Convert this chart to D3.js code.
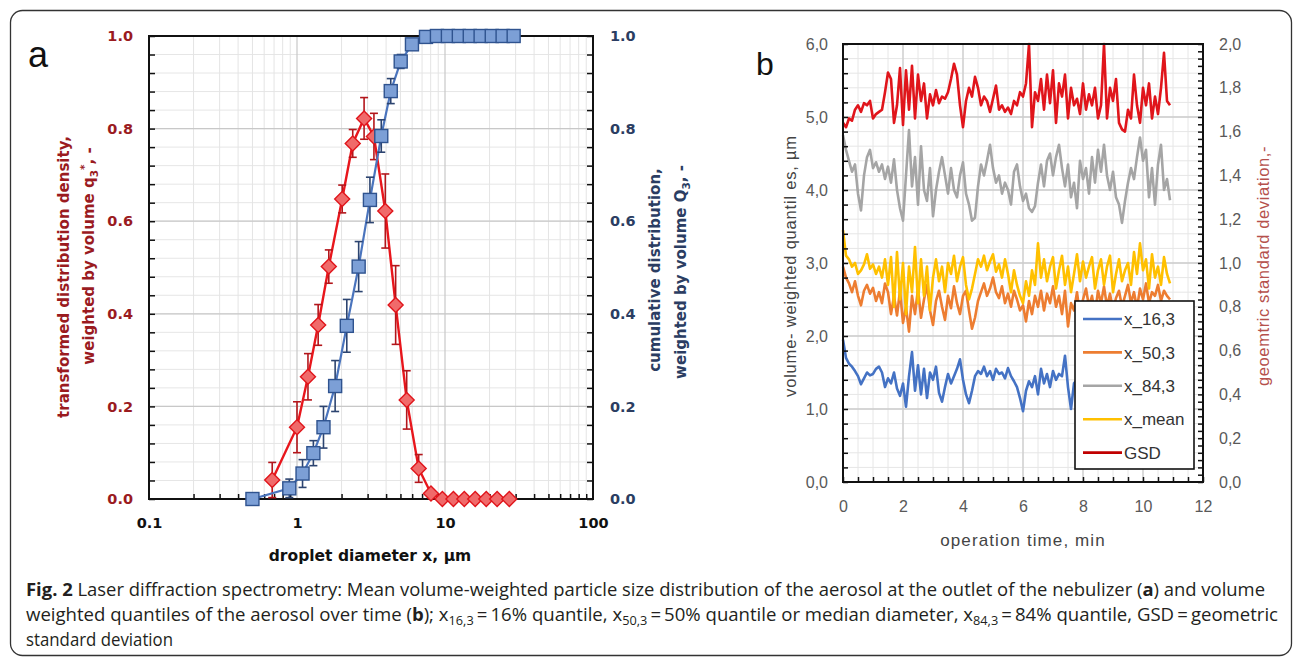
<!DOCTYPE html>
<html><head><meta charset="utf-8">
<script src="https://cdn.jsdelivr.net/npm/d3@7"></script>
<style>
body{margin:0;background:#fff}
svg{display:block}
</style>
</head><body>
<svg id="c" width="1296" height="659" font-family="Liberation Sans, Arial, sans-serif"></svg>
<script>
// ---------- Panel a data ----------
const diamDensity = [0.68,1.0,1.186,1.39,1.64,2.02,2.38,2.84,3.31,3.95,4.64,5.51,6.64,8.04,9.6,11.4,13.5,16.0,19.0,22.5,27.2];
const q3Density   = [0.041,0.155,0.264,0.376,0.502,0.648,0.768,0.822,0.783,0.622,0.419,0.214,0.066,0.012,0,0,0,0,0,0,0];
const q3Err       = [0.038,0.055,0.050,0.044,0.036,0.030,0.030,0.045,0.050,0.080,0.085,0.063,0.030,0.008,0,0,0,0,0,0,0];
const diamCum     = [0.50,0.887,1.09,1.29,1.51,1.81,2.17,2.61,3.11,3.71,4.30,5.02,5.98,7.44,8.82,10.46,12.4,14.7,17.4,20.7,24.5,29.1];
const Q3Cum       = [0,0.023,0.055,0.099,0.155,0.244,0.374,0.502,0.646,0.784,0.881,0.945,0.982,0.998,1,1,1,1,1,1,1,1];
const Q3Err       = [0,0.020,0.030,0.027,0.045,0.055,0.057,0.054,0.049,0.035,0.027,0.015,0.008,0,0,0,0,0,0,0,0,0];
const xTicksA = [0.1,1,10,100];
const xTickLabelsA = ["0.1","1","10","100"];
const yTicksA = [0,0.2,0.4,0.6,0.8,1.0];
const yTickLabelsA = ["0.0","0.2","0.4","0.6","0.8","1.0"];

// ---------- Panel b data ----------
const timeMin = [
0.0,0.1,0.2,0.3,0.4,0.5,0.6,0.7,0.8,0.9,
1.0,1.1,1.2,1.3,1.4,1.5,1.6,1.7,1.8,1.9,
2.0,2.1,2.2,2.3,2.4,2.5,2.6,2.7,2.8,2.9,
3.0,3.1,3.2,3.3,3.4,3.5,3.6,3.7,3.8,3.9,
4.0,4.1,4.2,4.3,4.4,4.5,4.6,4.7,4.8,4.9,
5.0,5.1,5.2,5.3,5.4,5.5,5.6,5.7,5.8,5.9,
6.0,6.1,6.2,6.3,6.4,6.5,6.6,6.7,6.8,6.9,
7.0,7.1,7.2,7.3,7.4,7.5,7.6,7.7,7.8,7.9,
8.0,8.1,8.2,8.3,8.4,8.5,8.6,8.7,8.8,8.9,
9.0,9.1,9.2,9.3,9.4,9.5,9.6,9.7,9.8,9.9,
10.0,10.1,10.2,10.3,10.4,10.5,10.6,10.7,10.8,10.9];
const x16 = [
1.95,1.70,1.62,1.58,1.52,1.45,1.34,1.42,1.50,1.46,
1.48,1.55,1.58,1.50,1.30,1.42,1.35,1.50,1.28,1.18,
1.35,1.03,1.45,1.78,1.25,1.60,1.20,1.55,1.15,1.50,
1.40,1.58,1.22,1.10,1.30,1.48,1.35,1.45,1.55,1.68,
1.40,1.20,1.08,1.25,1.45,1.52,1.48,1.58,1.45,1.52,
1.40,1.55,1.48,1.50,1.42,1.56,1.45,1.38,1.30,1.15,
0.97,1.25,1.38,1.30,1.45,1.20,1.55,1.35,1.48,1.30,
1.52,1.40,1.48,1.45,1.73,1.30,1.00,1.35,1.40,1.52,
1.35,1.45,1.30,1.50,1.38,1.45,1.55,1.40,1.32,1.48,
1.42,1.35,1.50,1.28,1.45,1.40,1.52,1.38,1.45,1.35,
1.48,1.40,1.30,1.45,1.38,1.50,1.42,1.35,1.45,1.40];
const x50 = [
2.95,2.80,2.72,2.60,2.75,2.55,2.42,2.62,2.70,2.58,
2.66,2.48,2.60,2.45,2.72,2.60,2.30,2.55,2.28,2.62,
2.18,2.40,2.06,2.55,2.30,2.65,2.25,2.50,2.70,2.35,
2.15,2.48,2.62,2.40,2.22,2.55,2.38,2.68,2.45,2.30,
2.55,2.62,2.35,2.10,2.25,2.48,2.60,2.72,2.55,2.65,
2.80,2.60,2.52,2.68,2.45,2.58,2.40,2.62,2.50,2.35,
2.42,2.20,2.48,2.30,2.55,2.40,2.62,2.35,2.58,2.45,
2.68,2.40,2.55,2.30,2.62,2.13,2.45,2.35,2.60,2.28,
2.50,2.65,2.40,2.55,2.30,2.62,2.45,2.68,2.40,2.58,
2.35,2.52,2.62,2.40,2.55,2.70,2.45,2.60,2.38,2.65,
2.50,2.72,2.45,2.60,2.55,2.70,2.48,2.62,2.55,2.50];
const x84 = [
4.75,4.55,4.40,4.25,4.35,3.95,3.72,4.20,4.45,4.55,
4.30,4.38,4.25,4.35,4.15,4.32,4.10,4.42,4.00,3.75,
3.58,4.20,4.82,4.05,4.45,3.80,4.60,4.00,3.85,4.30,
3.64,4.00,4.25,4.45,4.20,3.95,4.30,4.00,3.90,4.20,
4.38,3.95,3.80,3.58,3.62,4.05,4.35,4.20,4.40,4.62,
4.30,4.10,4.20,3.95,4.10,4.00,3.80,4.25,4.35,4.05,
3.85,3.95,3.75,3.70,3.78,4.10,4.35,4.05,4.40,4.50,
4.20,4.45,4.62,4.30,4.05,4.35,3.90,4.10,3.75,4.40,
4.15,4.30,3.95,4.45,4.10,4.55,4.25,4.62,4.20,4.00,
4.25,3.90,3.80,3.55,3.85,4.10,4.30,4.15,4.45,4.72,
4.40,4.55,3.90,4.30,3.80,4.35,4.62,4.00,4.15,3.86];
const xMean = [
3.45,3.10,3.05,2.95,3.00,2.85,2.90,2.98,3.12,2.92,
2.98,2.85,2.95,2.80,3.05,2.70,3.08,2.40,3.15,2.50,
3.00,2.30,2.95,2.60,3.22,2.45,3.05,2.55,2.95,2.35,
2.80,3.05,2.75,2.95,2.60,3.00,2.85,3.10,2.75,2.95,
3.08,2.70,2.50,2.65,2.85,3.05,2.95,3.10,2.90,3.02,
3.12,2.88,2.98,2.80,3.05,2.85,2.60,2.90,2.70,2.55,
2.45,2.75,2.55,2.90,2.70,3.27,2.80,3.05,2.75,2.95,
3.08,2.65,2.90,3.10,2.70,2.95,2.60,2.85,3.12,2.75,
3.02,2.80,2.95,3.08,2.65,2.90,3.05,2.70,2.95,3.10,
2.60,2.85,3.05,2.75,2.90,3.00,2.70,3.15,2.85,3.27,
2.90,3.05,2.65,3.12,2.80,2.95,2.70,3.08,2.85,2.72];
const gsd = [
1.64,1.62,1.66,1.65,1.70,1.72,1.69,1.73,1.72,1.74,
1.66,1.68,1.69,1.70,1.78,1.87,1.84,1.64,1.72,1.89,
1.63,1.88,1.70,1.90,1.66,1.86,1.74,1.82,1.66,1.77,
1.72,1.79,1.73,1.76,1.75,1.78,1.84,1.91,1.86,1.72,
1.62,1.74,1.80,1.76,1.85,1.80,1.72,1.76,1.74,1.69,
1.75,1.81,1.70,1.72,1.69,1.71,1.68,1.74,1.72,1.78,
1.76,1.82,2.00,1.62,1.78,1.74,1.84,1.70,1.86,1.73,
1.88,1.64,1.82,1.76,1.86,1.66,1.80,1.72,1.75,1.68,
1.82,1.70,1.77,1.72,1.80,1.66,1.72,2.00,1.66,1.80,
1.74,1.84,1.64,1.61,1.60,1.70,1.66,1.86,1.72,1.64,
1.80,1.72,1.82,1.66,1.76,1.68,1.80,1.96,1.74,1.72];
const seriesNames = ["x_16,3","x_50,3","x_84,3","x_mean","GSD"];
const seriesColors = ["#4472c4","#ed7d31","#a5a5a5","#ffc000","#e0151b"];
const legendColors = ["#4472c4","#ed7d31","#a5a5a5","#ffc000","#c00000"];
const xTicksB = [0,2,4,6,8,10,12];
const xTickLabelsB = ["0","2","4","6","8","10","12"];
const yTicksB = [0,1,2,3,4,5,6];
const yTickLabelsB = ["0,0","1,0","2,0","3,0","4,0","5,0","6,0"];
const yTicksB2 = [0,0.2,0.4,0.6,0.8,1.0,1.2,1.4,1.6,1.8,2.0];
const yTickLabelsB2 = ["0,0","0,2","0,4","0,6","0,8","1,0","1,2","1,4","1,6","1,8","2,0"];

// ---------- drawing ----------
const FA = "DejaVu Sans, Verdana, sans-serif";
const FB = "Liberation Sans, Arial, sans-serif";
const svg = d3.select("#c");
svg.append("rect").attr("width",1296).attr("height",659).attr("fill","#fff");
svg.append("rect").attr("x",10.5).attr("y",10.5).attr("width",1281).attr("height",645)
  .attr("rx",12).attr("fill","none").attr("stroke","#333").attr("stroke-width",1.3);

function rotText(g, x, y, parts, opts){
  const t = g.append("text").attr("transform",`translate(${x},${y}) rotate(-90)`)
    .attr("text-anchor","middle").attr("dy","0.35em")
    .attr("font-family",opts.font)
    .attr("font-size",opts.size).attr("font-weight",opts.weight||"normal")
    .attr("fill",opts.color).attr("letter-spacing",opts.ls||0);
  parts.forEach(p=>{
    const s = t.append("tspan").text(p.t);
    if(p.sub){ s.attr("font-size",opts.size*0.7).attr("dy",4); }
    if(p.sup){ s.attr("font-size",opts.size*0.7).attr("dy",-6); }
    if(p.back){ s.attr("dy",p.back); }
  });
  return t;
}

// ===== Panel a =====
const A = {l:149,r:593,t:36,b:499};
const xA = d3.scaleLog().domain([0.1,100]).range([A.l,A.r]);
const yA = d3.scaleLinear().domain([0,1]).range([A.b,A.t]);
const gA = svg.append("g");
const minorLog = [];
[0.1,1,10].forEach(d=>{for(let k=2;k<=9;k++) minorLog.push(d*k);});
const minorYA = d3.range(0,1.0001,0.04);
gA.append("g").selectAll("line").data(minorYA).join("line")
  .attr("x1",A.l).attr("x2",A.r).attr("y1",d=>yA(d)).attr("y2",d=>yA(d))
  .attr("stroke","#e6e6e6").attr("stroke-width",1);
gA.append("g").selectAll("line").data(minorLog).join("line")
  .attr("y1",A.t).attr("y2",A.b).attr("x1",d=>xA(d)).attr("x2",d=>xA(d))
  .attr("stroke","#e4e4e4").attr("stroke-width",1);
gA.append("g").selectAll("line").data(yTicksA).join("line")
  .attr("x1",A.l).attr("x2",A.r).attr("y1",d=>yA(d)).attr("y2",d=>yA(d))
  .attr("stroke","#c8c8c8").attr("stroke-width",1.2);
gA.append("g").selectAll("line").data([1,10]).join("line")
  .attr("y1",A.t).attr("y2",A.b).attr("x1",d=>xA(d)).attr("x2",d=>xA(d))
  .attr("stroke","#c8c8c8").attr("stroke-width",1.2);

const tickStyle = g=>{g.select(".domain").remove(); g.selectAll("line").attr("stroke","#111").attr("stroke-width",1.5);};
gA.append("g").attr("transform",`translate(${A.l},0)`)
  .call(d3.axisLeft(yA).tickValues(minorYA).tickSize(-6).tickFormat(""))
  .call(tickStyle);
gA.append("g").attr("transform",`translate(${A.r},0)`)
  .call(d3.axisRight(yA).tickValues(minorYA).tickSize(-6).tickFormat(""))
  .call(tickStyle);
gA.append("g").attr("transform",`translate(0,${A.b})`)
  .call(d3.axisBottom(xA).tickValues(minorLog).tickSize(-5).tickFormat(""))
  .call(tickStyle);
gA.append("rect").attr("x",A.l).attr("y",A.t).attr("width",A.r-A.l).attr("height",A.b-A.t)
  .attr("fill","none").attr("stroke","#111").attr("stroke-width",2);

const lblA = (g,color)=>{g.select(".domain").remove(); g.selectAll("line").remove();
  g.attr("font-family",FA);
  g.selectAll("text").attr("font-family",FA).attr("font-size",14.5).attr("font-weight","bold").attr("fill",color);};
gA.append("g").attr("transform",`translate(${A.l},0)`)
  .call(d3.axisLeft(yA).tickValues(yTicksA).tickSize(0).tickPadding(16).tickFormat((d,i)=>yTickLabelsA[i]))
  .call(g=>lblA(g,"#9a1b1f"));
gA.append("g").attr("transform",`translate(${A.r},0)`)
  .call(d3.axisRight(yA).tickValues(yTicksA).tickSize(0).tickPadding(17).tickFormat((d,i)=>yTickLabelsA[i]))
  .call(g=>lblA(g,"#2b3d62"));
gA.append("g").attr("transform",`translate(0,${A.b})`)
  .call(d3.axisBottom(xA).tickValues(xTicksA).tickSize(0).tickPadding(19).tickFormat((d,i)=>xTickLabelsA[i]))
  .call(g=>lblA(g,"#111"));

svg.append("text").attr("x",370).attr("y",561).attr("text-anchor","middle").attr("font-family",FA)
  .attr("font-size",15.5).attr("font-weight","bold").attr("fill","#111").text("droplet diameter x, µm");

rotText(svg,64,277,[{t:"transformed distribution density,"}],{font:FA,size:15,weight:"bold",color:"#9a1b1f"});
rotText(svg,89,256,[{t:"weighted by volume q"},{t:"3",sub:true},{t:"*",sup:true,back:-10},{t:", -",back:6}],{font:FA,size:15,weight:"bold",color:"#9a1b1f"});
rotText(svg,655,270,[{t:"cumulative distribution,"}],{font:FA,size:15,weight:"bold",color:"#2b3d62"});
rotText(svg,681,272,[{t:"weighted by volume Q"},{t:"3",sub:true},{t:", -",back:-4}],{font:FA,size:15,weight:"bold",color:"#2b3d62"});

svg.append("text").attr("x",28).attr("y",67).attr("font-size",36).attr("fill","#111").text("a");

const redData = diamDensity.map((d,i)=>({x:d,y:q3Density[i],e:q3Err[i]}));
const blueData = diamCum.map((d,i)=>({x:d,y:Q3Cum[i],e:Q3Err[i]}));
const lineA = d3.line().x(d=>xA(d.x)).y(d=>yA(d.y));
function errBars(g,data,color){
  const eb = g.append("g").attr("stroke",color).attr("stroke-width",1.6).attr("fill","none");
  data.filter(d=>d.e>0).forEach(d=>{
    const x=xA(d.x), y1=yA(d.y+d.e), y0=yA(Math.max(0,d.y-d.e));
    eb.append("line").attr("x1",x).attr("x2",x).attr("y1",y1).attr("y2",y0);
    eb.append("line").attr("x1",x-4).attr("x2",x+4).attr("y1",y1).attr("y2",y1);
    eb.append("line").attr("x1",x-4).attr("x2",x+4).attr("y1",y0).attr("y2",y0);
  });
}
const gR = svg.append("g");
gR.append("path").datum(redData).attr("d",lineA).attr("fill","none").attr("stroke","#e8161c").attr("stroke-width",2.4);
errBars(gR,redData,"#b3161b");
gR.selectAll("path.m").data(redData).join("path").attr("class","m")
  .attr("d","M0,-7.5L7.5,0L0,7.5L-7.5,0Z")
  .attr("transform",d=>`translate(${xA(d.x)},${yA(d.y)})`)
  .attr("fill","#f06a6a").attr("stroke","#e0151b").attr("stroke-width",1.4);

const gBl = svg.append("g");
gBl.append("path").datum(blueData).attr("d",lineA).attr("fill","none").attr("stroke","#4a74bd").attr("stroke-width",2.2);
errBars(gBl,blueData,"#2c4470");
gBl.selectAll("rect.m").data(blueData).join("rect").attr("class","m")
  .attr("x",d=>xA(d.x)-6.5).attr("y",d=>yA(d.y)-6.5).attr("width",13).attr("height",13)
  .attr("fill","#7c9fd6").attr("stroke","#2f538f").attr("stroke-width",1.4);

// ===== Panel b =====
const B = {l:843,r:1203,t:44,b:482};
const xB = d3.scaleLinear().domain([0,12]).range([B.l,B.r]);
const yB = d3.scaleLinear().domain([0,6]).range([B.b,B.t]);
const yB2 = d3.scaleLinear().domain([0,2]).range([B.b,B.t]);
const gB = svg.append("g");
const minorXB = d3.range(0,12.001,0.5);
const minorYB = d3.range(0,6.001,0.2);
gB.append("g").selectAll("line").data(minorYB).join("line")
  .attr("x1",B.l).attr("x2",B.r).attr("y1",d=>yB(d)).attr("y2",d=>yB(d))
  .attr("stroke","#e6e6e6").attr("stroke-width",1);
gB.append("g").selectAll("line").data(minorXB).join("line")
  .attr("y1",B.t).attr("y2",B.b).attr("x1",d=>xB(d)).attr("x2",d=>xB(d))
  .attr("stroke","#e6e6e6").attr("stroke-width",1);
gB.append("g").selectAll("line").data(yTicksB).join("line")
  .attr("x1",B.l).attr("x2",B.r).attr("y1",d=>yB(d)).attr("y2",d=>yB(d))
  .attr("stroke","#cdcdcd").attr("stroke-width",1.3);
gB.append("g").selectAll("line").data(xTicksB).join("line")
  .attr("y1",B.t).attr("y2",B.b).attr("x1",d=>xB(d)).attr("x2",d=>xB(d))
  .attr("stroke","#cdcdcd").attr("stroke-width",1.3);

const lineB = d3.line().x((d,i)=>xB(timeMin[i])).y(d=>yB(d));
const lineB2 = d3.line().x((d,i)=>xB(timeMin[i])).y(d=>yB2(d));
[x16,x50,x84,xMean].forEach((s,k)=>{
  gB.append("path").datum(s).attr("d",lineB).attr("fill","none")
    .attr("stroke",seriesColors[k]).attr("stroke-width",2.6).attr("stroke-linejoin","round");
});
gB.append("path").datum(gsd).attr("d",lineB2).attr("fill","none")
  .attr("stroke",seriesColors[4]).attr("stroke-width",2.6).attr("stroke-linejoin","round");

gB.append("g").attr("transform",`translate(${B.l},0)`)
  .call(d3.axisLeft(yB).tickValues(minorYB).tickSize(-5).tickFormat("")).call(tickStyle);
gB.append("g").attr("transform",`translate(0,${B.b})`)
  .call(d3.axisBottom(xB).tickValues(minorXB).tickSize(-5).tickFormat("")).call(tickStyle);
gB.append("g").attr("transform",`translate(${B.r},0)`)
  .call(d3.axisRight(yB).tickValues(d3.range(0,6.001,0.1)).tickSize(-5).tickFormat("")).call(tickStyle);
gB.append("rect").attr("x",B.l).attr("y",B.t).attr("width",B.r-B.l).attr("height",B.b-B.t)
  .attr("fill","none").attr("stroke","#111").attr("stroke-width",2);

const lblB = g=>{g.select(".domain").remove(); g.selectAll("line").remove();
  g.selectAll("text").attr("font-family",FB).attr("font-size",16).attr("fill","#595959");};
gB.append("g").attr("transform",`translate(${B.l},0)`)
  .call(d3.axisLeft(yB).tickValues(yTicksB).tickSize(0).tickPadding(15).tickFormat((d,i)=>yTickLabelsB[i])).call(lblB);
gB.append("g").attr("transform",`translate(${B.r},0)`)
  .call(d3.axisRight(yB2).tickValues(yTicksB2).tickSize(0).tickPadding(16).tickFormat((d,i)=>yTickLabelsB2[i])).call(lblB);
gB.append("g").attr("transform",`translate(0,${B.b})`)
  .call(d3.axisBottom(xB).tickValues(xTicksB).tickSize(0).tickPadding(19).tickFormat((d,i)=>xTickLabelsB[i])).call(lblB);

svg.append("text").attr("x",1023).attr("y",546).attr("text-anchor","middle").attr("font-family",FB)
  .attr("font-size",17).attr("letter-spacing",1.1).attr("fill","#444").text("operation time, min");
rotText(svg,790,266,[{t:"volume- weighted quantil es, µm"}],{font:FB,size:16.5,color:"#444",ls:0.8});
rotText(svg,1263,266,[{t:"geoemtric standard deviation,-"}],{font:FB,size:16.5,color:"#b5504c",ls:0.6});
svg.append("text").attr("x",756).attr("y",75).attr("font-size",32).attr("fill","#111").text("b");

const gL = svg.append("g");
gL.append("rect").attr("x",1075).attr("y",301).attr("width",119).attr("height",168)
  .attr("fill","#fff").attr("stroke","#111").attr("stroke-width",1.6);
seriesNames.forEach((n,i)=>{
  const y = 319 + i*33.4;
  gL.append("line").attr("x1",1083).attr("x2",1122).attr("y1",y).attr("y2",y)
    .attr("stroke",legendColors[i]).attr("stroke-width",2.6);
  gL.append("text").attr("x",1124).attr("y",y).attr("dy","0.36em").attr("font-size",17)
    .attr("font-family",FB).attr("fill","#333").text(n);
});

// ===== caption =====
const cap = svg.append("g").attr("fill","#231f20").attr("font-size",17.5);
function capLine(y, parts, len){
  const t = cap.append("text").attr("x",26).attr("y",y)
    .attr("font-family","Open Sans, Noto Sans, sans-serif")
    .attr("textLength",len).attr("lengthAdjust","spacingAndGlyphs");
  parts.forEach(p=>{
    const s = t.append("tspan").text(p.t);
    if(p.b) s.attr("font-weight","bold");
    if(p.sub) s.attr("font-size",12).attr("dy",4);
    if(p.up) s.attr("dy",-4);
  });
}
capLine(596,[{t:"Fig. 2",b:true},{t:"  Laser diffraction spectrometry: Mean volume-weighted particle size distribution of the aerosol at the outlet of the nebulizer ("},{t:"a",b:true},{t:") and volume"}],1239);
capLine(621,[{t:"weighted quantiles of the aerosol over time ("},{t:"b",b:true},{t:"); x"},{t:"16,3",sub:true},{t:"\u2009=\u200916% quantile, x",up:true},{t:"50,3",sub:true},{t:"\u2009=\u200950% quantile or median diameter, x",up:true},{t:"84,3",sub:true},{t:"\u2009=\u200984% quantile, GSD\u2009=\u2009geometric",up:true}],1252);
capLine(646,[{t:"standard deviation"}],147);
</script>
</body></html>
